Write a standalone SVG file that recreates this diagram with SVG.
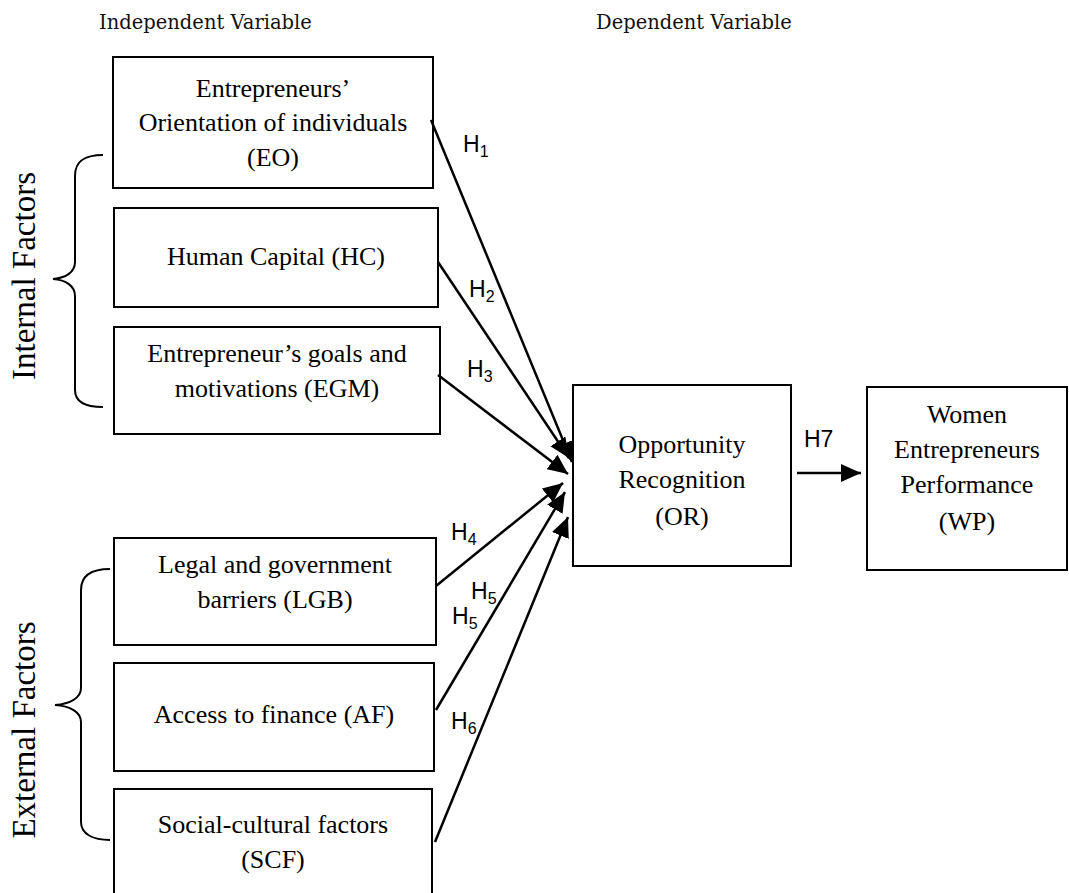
<svg xmlns="http://www.w3.org/2000/svg" width="1069" height="893" viewBox="0 0 1069 893">
<style>
.box{fill:#fff;stroke:#000;stroke-width:2}
.t{font-family:"Liberation Serif","Times New Roman",serif;font-size:26px;fill:#000;text-anchor:middle}
.hd{font-family:"DejaVu Serif",serif;font-size:19.5px;fill:#111}
.side{font-family:"Liberation Serif","Times New Roman",serif;font-size:33px;fill:#000;text-anchor:middle}
.h{font-family:"Liberation Sans",Arial,sans-serif;font-size:23px;fill:#000}
.sub{font-size:16px}
.c{fill:none;stroke:#000;stroke-width:2.5}
.br{fill:none;stroke:#000;stroke-width:2}
</style>
<defs>
<marker id="ah" markerUnits="userSpaceOnUse" markerWidth="22" markerHeight="18" refX="20" refY="9" orient="auto">
<path d="M0,0 L20,9 L0,18 Z" fill="#000"/>
</marker>
</defs>
<rect width="1069" height="893" fill="#fff"/>
<text class="hd" x="99" y="29">Independent Variable</text>
<text class="hd" x="596" y="29">Dependent Variable</text>

<g id="internal-label">
<path class="br" d="M103,155 C86,155 75,160 75,176 L75,262 C75,272 66,278 53,279 C66,280 75,286 75,296 L75,390 C75,402 86,407 103,407"/>
<text class="side" transform="translate(35,276) rotate(-90)">Internal Factors</text>
</g>
<g id="external-label">
<path class="br" d="M110,569 C93,569 81,575 81,590 L81,688 C81,698 70,704 55,705 C70,706 81,712 81,722 L81,822 C81,834 93,840 110,840"/>
<text class="side" transform="translate(35,730) rotate(-90)">External Factors</text>
</g>

<g id="EO">
<rect class="box" x="113" y="57" width="320" height="131"/>
<text class="t" x="273" y="97">Entrepreneurs’</text>
<text class="t" x="273" y="131">Orientation of individuals</text>
<text class="t" x="273" y="166">(EO)</text>
</g>
<g id="HC">
<rect class="box" x="114" y="208" width="324" height="99"/>
<text class="t" x="276" y="265">Human Capital (HC)</text>
</g>
<g id="EGM">
<rect class="box" x="114" y="327" width="326" height="107"/>
<text class="t" x="277" y="362">Entrepreneur’s goals and</text>
<text class="t" x="277" y="397">motivations (EGM)</text>
</g>
<g id="LGB">
<rect class="box" x="114" y="538" width="322" height="107"/>
<text class="t" x="275" y="573">Legal and government</text>
<text class="t" x="275" y="608">barriers (LGB)</text>
</g>
<g id="AF">
<rect class="box" x="114" y="663" width="320" height="108"/>
<text class="t" x="274" y="723">Access to finance (AF)</text>
</g>
<g id="SCF">
<path class="box" d="M114,895 L114,789 L432,789 L432,895"/>
<text class="t" x="273" y="833">Social-cultural factors</text>
<text class="t" x="273" y="868">(SCF)</text>
</g>
<g id="OR">
<rect class="box" x="573" y="385" width="218" height="181"/>
<text class="t" x="682" y="453">Opportunity</text>
<text class="t" x="682" y="488">Recognition</text>
<text class="t" x="682" y="525">(OR)</text>
</g>
<g id="WP">
<rect class="box" x="867" y="387" width="200" height="183"/>
<text class="t" x="967" y="423">Women</text>
<text class="t" x="967" y="458">Entrepreneurs</text>
<text class="t" x="967" y="493">Performance</text>
<text class="t" x="967" y="530">(WP)</text>
</g>

<g id="connectors">
<line class="c" x1="431" y1="120" x2="572" y2="462" marker-end="url(#ah)"/>
<line class="c" x1="438" y1="262" x2="569" y2="458" marker-end="url(#ah)"/>
<line class="c" x1="438" y1="375" x2="568" y2="474" marker-end="url(#ah)"/>
<line class="c" x1="436" y1="586" x2="563" y2="483" marker-end="url(#ah)"/>
<line class="c" x1="436" y1="710" x2="565" y2="492" marker-end="url(#ah)"/>
<line class="c" x1="435" y1="842" x2="568" y2="517" marker-end="url(#ah)"/>
<line class="c" x1="797" y1="473" x2="861" y2="473" marker-end="url(#ah)"/>
</g>

<g id="labels">
<text class="h" x="463" y="152">H<tspan class="sub" dy="5">1</tspan></text>
<text class="h" x="469" y="297">H<tspan class="sub" dy="5">2</tspan></text>
<text class="h" x="467" y="377">H<tspan class="sub" dy="5">3</tspan></text>
<text class="h" x="451" y="540">H<tspan class="sub" dy="5">4</tspan></text>
<text class="h" x="471" y="599">H<tspan class="sub" dy="5">5</tspan></text>
<text class="h" x="452" y="624">H<tspan class="sub" dy="5">5</tspan></text>
<text class="h" x="451" y="729">H<tspan class="sub" dy="5">6</tspan></text>
<text class="h" x="804" y="447">H7</text>
</g>
</svg>
